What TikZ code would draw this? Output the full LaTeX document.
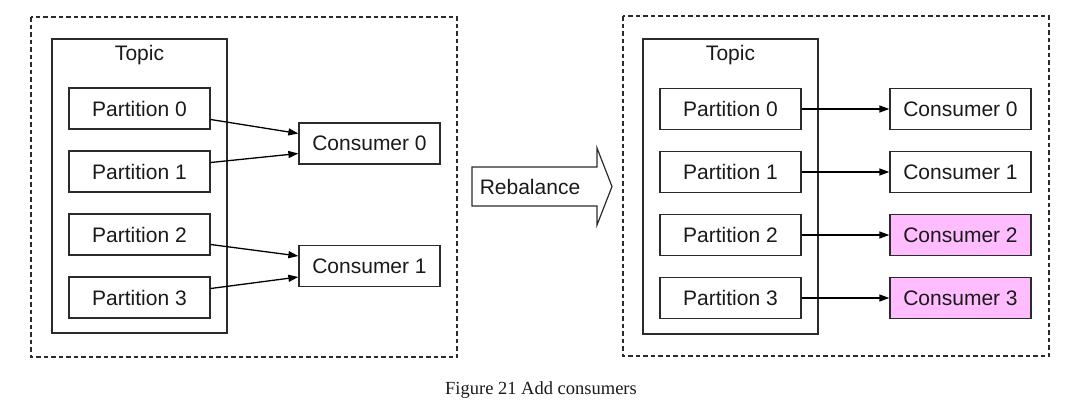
\documentclass[tikz,border=0pt]{standalone}
\usepackage{fontspec}
\setmainfont{Liberation Sans}
\newfontfamily\capfont{Liberation Serif}
\usetikzlibrary{arrows.meta,calc}
\definecolor{linec}{HTML}{2B2B2B}
\definecolor{textc}{HTML}{1A1A1A}
\definecolor{pinkc}{HTML}{FFBCFF}
\tikzset{
  box/.style={draw=linec, line width=1.3pt, minimum width=141pt, minimum height=41pt, inner sep=0pt, font=\fontsize{21}{24}\selectfont, text=textc},
  outer/.style={draw=linec, line width=1.3pt, dash pattern=on 4.5pt off 3pt},
  topicbox/.style={draw=linec, line width=1.3pt},
  conn/.style={draw=black, line width=1.3pt, -{Triangle[length=10pt,width=7pt]}},
  lbl/.style={font=\fontsize{21}{24}\selectfont, text=textc, inner sep=0pt},
}
\begin{document}
\begin{tikzpicture}[x=1pt,y=-1pt]
\useasboundingbox (0,0) rectangle (1078,407);
% left panel
\draw[outer] (31,17) rectangle (457,357);
\draw[topicbox] (52,39) rectangle (227,333);
\node[lbl] (ltopic) at (139.5,55) {Topic};
\node[box] (lp0) at (139.5,108.5) {Partition 0};
\node[box] (lp1) at (139.5,171.5) {Partition 1};
\node[box] (lp2) at (139.5,234.5) {Partition 2};
\node[box] (lp3) at (139.5,297.5) {Partition 3};
\node[box] (lc0) at (369.5,143.5) {Consumer 0};
\node[box] (lc1) at (369.5,266) {Consumer 1};
\draw[conn] ([yshift=-11pt]lp0.east) -- ([yshift=10pt]lc0.west);
\draw[conn] ([yshift=9pt]lp1.east) -- ([yshift=-10pt]lc0.west);
\draw[conn] ([yshift=-10pt]lp2.east) -- ([yshift=10pt]lc1.west);
\draw[conn] ([yshift=9pt]lp3.east) -- ([yshift=-11pt]lc1.west);
% rebalance arrow
\draw[line width=1.2pt, draw=linec, fill=white] (472,167) -- (597,167) -- (597,148) -- (612,186.5) -- (597,225) -- (597,206) -- (472,206) -- cycle;
\node[lbl] (reb) at (530,186.5) {Rebalance};
% right panel
\draw[outer] (623,16) rectangle (1049,356);
\draw[topicbox] (643,39) rectangle (818,334);
\node[lbl] (rtopic) at (730.5,55) {Topic};
\node[box] (rp0) at (730.5,109) {Partition 0};
\node[box] (rp1) at (730.5,172) {Partition 1};
\node[box] (rp2) at (730.5,235) {Partition 2};
\node[box] (rp3) at (730.5,298) {Partition 3};
\node[box] (rc0) at (960.5,109) {Consumer 0};
\node[box] (rc1) at (960.5,172) {Consumer 1};
\node[box, fill=pinkc] (rc2) at (960.5,235) {Consumer 2};
\node[box, fill=pinkc] (rc3) at (960.5,298) {Consumer 3};
\draw[conn] (rp0) -- (rc0);
\draw[conn] (rp1) -- (rc1);
\draw[conn] (rp2) -- (rc2);
\draw[conn] (rp3) -- (rc3);
% caption
\node[inner sep=0pt, font=\capfont\fontsize{18.5}{22}\selectfont, text=textc] (cap) at (541,390) {Figure 21 Add consumers};
\end{tikzpicture}
\end{document}
